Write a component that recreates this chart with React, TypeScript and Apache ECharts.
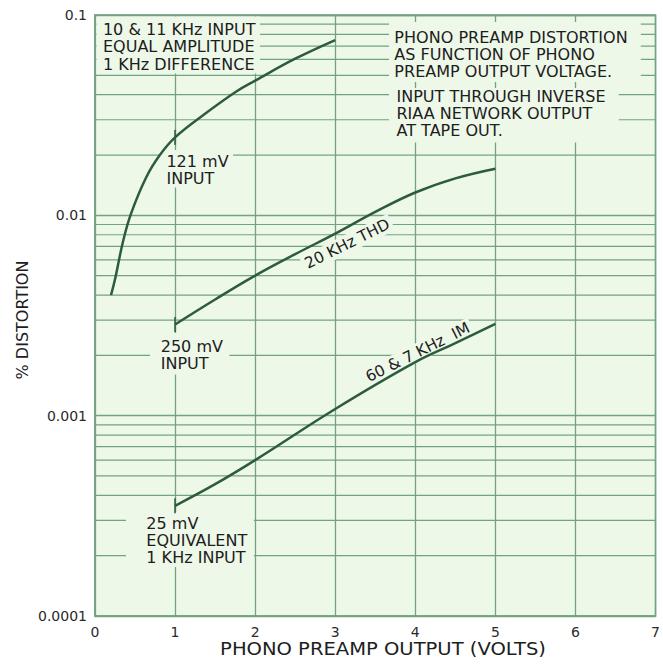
import React, { useEffect, useRef } from "react";
import * as echarts from "echarts";

// ---------- data ----------
const X_MIN = 0;
const X_MAX = 7;
const X_STEP = 1;
const X_TICK_LABELS = ["0", "1", "2", "3", "4", "5", "6", "7"];

const Y_MIN = 0.0001;
const Y_MAX = 0.1;
const Y_MAJOR_VALUES = [0.0001, 0.001, 0.01, 0.1];
const Y_TICK_LABELS = ["0.0001", "0.001", "0.01", "0.1"];
const Y_MINOR_VALUES = [
  0.0002, 0.0003, 0.0004, 0.0005, 0.0006, 0.0007, 0.0008, 0.0009,
  0.002, 0.003, 0.004, 0.005, 0.006, 0.007, 0.008, 0.009,
  0.02, 0.03, 0.04, 0.05, 0.06, 0.07, 0.08, 0.09,
];

// 10 & 11 kHz IM (121 mV input)
const IM_10_11_X = [0.2, 0.25, 0.35, 0.45, 0.64, 0.81, 1.0, 1.35, 1.76, 2.0, 2.5, 3.0];
const IM_10_11_Y = [0.004, 0.0048, 0.0074, 0.0102, 0.0155, 0.02, 0.0245, 0.0316, 0.0414, 0.047, 0.0605, 0.075];

// 20 kHz THD (250 mV input)
const THD_20K_X = [1, 1.5, 2, 2.5, 3, 3.5, 4, 4.5, 5];
const THD_20K_Y = [0.00285, 0.0038, 0.005, 0.0064, 0.0081, 0.0104, 0.013, 0.0153, 0.0171];

// 60 & 7 kHz IM (25 mV equivalent 1 kHz input)
const IM_60_7_X = [1, 1.5, 2, 3, 4, 4.5, 5];
const IM_60_7_Y = [0.000355, 0.000455, 0.0006, 0.00108, 0.00185, 0.0023, 0.00287];

const SERIES_NAMES = ["10 & 11 KHz IM", "20 KHz THD", "60 & 7 KHz IM"];
const MARK_X = 1; // input-level markers on each curve

// ---------- style ----------
const BG = "#eef8e9";
const GRID_COLOR = "#72a37f";
const CURVE = "#2c5c3b";
const TEXT = "#1c201c";
const FONT = "DejaVu Sans";

const pairs = (xs: number[], ys: number[]) => xs.map((x, i) => [x, ys[i]]);

export default function App() {
  const ref = useRef<HTMLDivElement>(null);

  useEffect(() => {
    const el = ref.current;
    if (!el) return;
    const chart = echarts.init(el, undefined, { renderer: "svg" });

    const curves = [
      pairs(IM_10_11_X, IM_10_11_Y),
      pairs(THD_20K_X, THD_20K_Y),
      pairs(IM_60_7_X, IM_60_7_Y),
    ];
    const markers = curves
      .map((c) => c.find((p) => p[0] === MARK_X))
      .filter(Boolean) as number[][];

    const labelFor = (v: number) => {
      let best = 0;
      let bd = Infinity;
      Y_MAJOR_VALUES.forEach((m, i) => {
        const d = Math.abs(Math.log10(v) - Math.log10(m));
        if (d < bd) {
          bd = d;
          best = i;
        }
      });
      return bd < 0.01 ? Y_TICK_LABELS[best] : "";
    };

    chart.setOption({
      animation: false,
      backgroundColor: "#ffffff",
      grid: {
        left: 95,
        right: 6,
        top: 15,
        bottom: 49,
        show: true,
        backgroundColor: BG,
        borderColor: GRID_COLOR,
        borderWidth: 1.5,
      },
      xAxis: {
        type: "value",
        min: X_MIN,
        max: X_MAX,
        interval: X_STEP,
        axisLine: { show: true, lineStyle: { color: GRID_COLOR, width: 1.5 } },
        axisTick: { show: false },
        splitLine: { show: true, lineStyle: { color: GRID_COLOR, width: 1.3 } },
        axisLabel: {
          color: "#2a2a2a",
          fontFamily: FONT,
          fontSize: 14,
          margin: 9,
          formatter: (v: number) => X_TICK_LABELS[Math.round(v - X_MIN)] ?? "",
        },
      },
      yAxis: {
        type: "log",
        logBase: 10,
        min: Y_MIN,
        max: Y_MAX,
        axisLine: { show: true, lineStyle: { color: GRID_COLOR, width: 1.5 } },
        axisTick: { show: false },
        splitLine: { show: true, lineStyle: { color: GRID_COLOR, width: 1.3 } },
        axisLabel: {
          color: "#2a2a2a",
          fontFamily: FONT,
          fontSize: 14,
          margin: 8,
          formatter: (v: number) => labelFor(v),
        },
      },
      series: [
        {
          type: "custom",
          name: "minor-grid",
          silent: true,
          z: 1,
          data: Y_MINOR_VALUES.map((v) => [X_MIN, v]),
          encode: { x: 0, y: 1 },
          renderItem: (params: any, api: any) => {
            const v = api.value(1);
            const p1 = api.coord([X_MIN, v]);
            const p2 = api.coord([X_MAX, v]);
            return {
              type: "line",
              shape: { x1: p1[0], y1: p1[1], x2: p2[0], y2: p2[1] },
              style: { stroke: GRID_COLOR, lineWidth: 1.2 },
            };
          },
        },
        ...curves.map((c, i) => ({
          type: "line",
          name: SERIES_NAMES[i],
          data: c,
          smooth: 0.4,
          symbol: "none",
          silent: true,
          z: 20,
          lineStyle: { color: CURVE, width: 2.5 },
        })),
        {
          type: "scatter",
          name: "input markers",
          data: markers,
          symbol: "rect",
          symbolSize: [2, 15],
          silent: true,
          z: 21,
          itemStyle: { color: CURVE },
        },
      ],
    });

    const px = (x: number, y: number) =>
      chart.convertToPixel({ gridIndex: 0 }, [x, y]) as number[];

    const thdPos = px(3.15, 0.0072);
    const im607Pos = px(4.03, 0.00207);

    const textBase = {
      fill: TEXT,
      fontFamily: FONT,
      fontSize: 15,
      align: "left",
      verticalAlign: "top",
      backgroundColor: BG,
    };
    const SX = 1.07;

    chart.setOption({
      graphic: [
        {
          type: "text",
          x: 96.5,
          y: 16.5,
          scaleX: SX,
          z: 10,
          style: {
            ...textBase,
            text: "10 & 11 KHz INPUT\nEQUAL AMPLITUDE\n1 KHz DIFFERENCE",
            lineHeight: 17.5,
            padding: [4.5, 4, 0, 6],
          },
        },
        {
          type: "text",
          x: 389,
          y: 22,
          scaleX: SX,
          z: 10,
          style: {
            ...textBase,
            text: "PHONO PREAMP DISTORTION\nAS FUNCTION OF PHONO\nPREAMP OUTPUT VOLTAGE.",
            lineHeight: 17,
            padding: [8, 12, 1, 5],
          },
        },
        {
          type: "text",
          x: 389,
          y: 88,
          scaleX: SX,
          z: 10,
          style: {
            ...textBase,
            text: "INPUT THROUGH INVERSE\nRIAA NETWORK OUTPUT\nAT TAPE OUT.",
            lineHeight: 17,
            padding: [0.5, 12, 3, 7],
          },
        },
        {
          type: "text",
          x: 160,
          y: 150,
          scaleX: SX,
          z: 10,
          style: {
            ...textBase,
            text: "121 mV\nINPUT",
            lineHeight: 17,
            padding: [3.5, 4, 0, 6],
          },
        },
        {
          type: "text",
          x: 150,
          y: 333,
          scaleX: SX,
          z: 10,
          style: {
            ...textBase,
            text: "250 mV\nINPUT",
            lineHeight: 17,
            padding: [5.5, 6, 2, 10],
          },
        },
        {
          type: "text",
          x: 126,
          y: 512,
          scaleX: SX,
          z: 10,
          style: {
            ...textBase,
            text: "25 mV\nEQUIVALENT\n1 KHz INPUT",
            lineHeight: 17,
            padding: [4, 6, 0, 19],
          },
        },
        {
          type: "text",
          x: thdPos[0],
          y: thdPos[1],
          rotation: (26.5 * Math.PI) / 180,
          z: 10,
          style: {
            ...textBase,
            fontSize: 15.5,
            text: "20 KHz THD",
            align: "center",
            verticalAlign: "middle",
            padding: [1, 3, 1, 3],
          },
        },
        {
          type: "text",
          x: im607Pos[0],
          y: im607Pos[1],
          rotation: (26.5 * Math.PI) / 180,
          z: 10,
          style: {
            ...textBase,
            fontSize: 15.5,
            text: "60 & 7 KHz  IM",
            align: "center",
            verticalAlign: "middle",
            padding: [1, 3, 1, 3],
          },
        },
        {
          type: "text",
          x: 22,
          y: 320,
          rotation: Math.PI / 2,
          z: 10,
          style: {
            fill: TEXT,
            fontFamily: FONT,
            fontSize: 16,
            text: "% DISTORTION",
            align: "center",
            verticalAlign: "middle",
          },
        },
        {
          type: "text",
          x: 383,
          y: 649,
          scaleX: 1.15,
          z: 10,
          style: {
            fill: TEXT,
            fontFamily: FONT,
            fontSize: 17,
            text: "PHONO PREAMP OUTPUT (VOLTS)",
            align: "center",
            verticalAlign: "middle",
          },
        },
      ],
    });

    return () => chart.dispose();
  }, []);

  return (
    <div
      ref={ref}
      style={{ position: "absolute", left: 0, top: 0, width: 663, height: 665 }}
    />
  );
}
